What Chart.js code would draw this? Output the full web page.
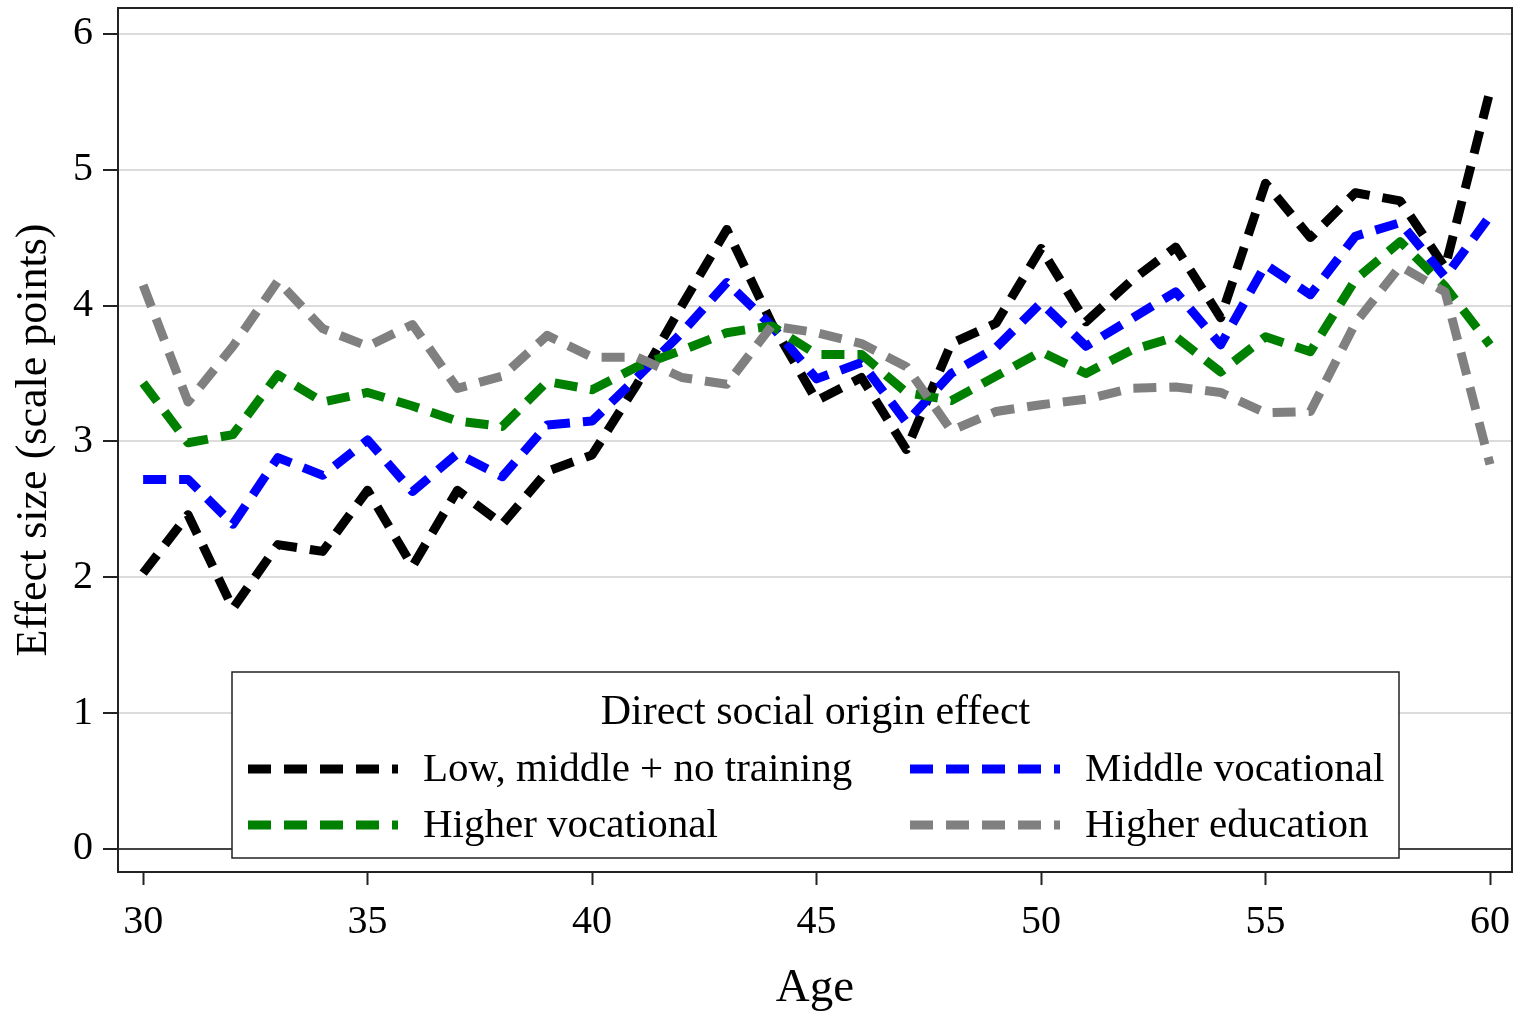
<!DOCTYPE html>
<html lang="en">
<head>
    <meta charset="UTF-8">
    <title>Direct social origin effect by age</title>
    <script src="https://cdn.jsdelivr.net/npm/chart.js@4.4.3/dist/chart.umd.min.js"></script>
    <style>
        html, body { margin: 0; padding: 0; background: #ffffff; }
        #wrap { width: 1517px; height: 1012px; }
    </style>
</head>
<body>
    <div id="wrap">
        <canvas id="effectChart" width="1517" height="1012"></canvas>
    </div>
    <script>
        // Data
        const ages = [30, 31, 32, 33, 34, 35, 36, 37, 38, 39, 40, 41, 42, 43, 44, 45,
                      46, 47, 48, 49, 50, 51, 52, 53, 54, 55, 56, 57, 58, 59, 60];
        const lowMiddle = [2.03, 2.46, 1.77, 2.24, 2.19, 2.64, 2.08, 2.64, 2.39, 2.78, 2.90,
                           3.42, 4.00, 4.56, 3.87, 3.30, 3.47, 2.94, 3.72, 3.87, 4.42,
                           3.88, 4.18, 4.43, 3.91, 4.90, 4.50, 4.83, 4.77, 4.28, 5.58];
        const middleVoc = [2.72, 2.72, 2.39, 2.88, 2.75, 3.01, 2.63, 2.91, 2.74, 3.12, 3.15,
                           3.47, 3.80, 4.17, 3.85, 3.46, 3.58, 3.14, 3.50, 3.69, 4.02,
                           3.70, 3.90, 4.10, 3.71, 4.30, 4.08, 4.51, 4.61, 4.21, 4.66];
        const higherVoc = [3.43, 2.99, 3.05, 3.49, 3.29, 3.36, 3.26, 3.15, 3.11, 3.44, 3.38,
                           3.55, 3.67, 3.80, 3.85, 3.64, 3.64, 3.36, 3.30, 3.48, 3.66,
                           3.50, 3.67, 3.77, 3.51, 3.77, 3.66, 4.19, 4.47, 4.14, 3.71];
        const higherEdu = [4.15, 3.29, 3.70, 4.18, 3.83, 3.70, 3.86, 3.39, 3.48, 3.78, 3.62,
                           3.62, 3.47, 3.42, 3.85, 3.80, 3.72, 3.55, 3.08, 3.22, 3.27,
                           3.31, 3.39, 3.40, 3.36, 3.21, 3.22, 3.87, 4.29, 4.10, 2.83];

        const seriesLabels = ['Low, middle + no training', 'Middle vocational',
                              'Higher vocational', 'Higher education'];
        const seriesColors = ['#000000', '#0000ff', '#008000', '#808080'];
        const xTicks = [30, 35, 40, 45, 50, 55, 60];
        const yTicks = [0, 1, 2, 3, 4, 5, 6];

        const FONT = '"Liberation Serif", "Times New Roman", serif';
        const DASH = [23, 13];
        const LINE_W = 9;

        const toPoints = (vals) => vals.map((v, i) => ({ x: ages[i], y: v }));

        const makeSet = (idx, vals) => ({
            label: seriesLabels[idx],
            data: toPoints(vals),
            borderColor: seriesColors[idx],
            backgroundColor: seriesColors[idx],
            borderWidth: LINE_W,
            borderDash: DASH,
            borderCapStyle: 'butt',
            borderJoinStyle: 'round',
            pointRadius: 0,
            tension: 0,
            fill: false,
            order: 4 - idx
        });

        // frame around the plot region
        const framePlugin = {
            id: 'frame',
            beforeDatasetsDraw(chart) {
                const a = chart.chartArea;
                const c = chart.ctx;
                c.save();
                c.strokeStyle = '#222222';
                c.lineWidth = 2;
                c.strokeRect(a.left, a.top, a.right - a.left, a.bottom - a.top);
                c.restore();
            }
        };

        // legend box drawn inside the plot like the original
        const boxLegend = {
            id: 'boxLegend',
            afterDatasetsDraw(chart) {
                const c = chart.ctx;
                const box = { left: 232, top: 672, right: 1399, bottom: 858 };
                c.save();
                c.fillStyle = '#ffffff';
                c.fillRect(box.left, box.top, box.right - box.left, box.bottom - box.top);
                c.strokeStyle = '#222222';
                c.lineWidth = 1.5;
                c.strokeRect(box.left, box.top, box.right - box.left, box.bottom - box.top);

                c.fillStyle = '#000000';
                c.textBaseline = 'middle';
                c.textAlign = 'center';
                c.font = '42px ' + FONT;
                c.fillText('Direct social origin effect', (box.left + box.right) / 2, 713);

                const cols = [248, 910];
                const rows = [769, 825];
                c.textAlign = 'left';
                c.font = '41px ' + FONT;
                chart.data.datasets.forEach((ds, i) => {
                    const x = cols[i % 2];
                    const y = rows[Math.floor(i / 2)];
                    c.strokeStyle = ds.borderColor;
                    c.lineWidth = LINE_W;
                    c.setLineDash(DASH);
                    c.beginPath();
                    c.moveTo(x, y);
                    c.lineTo(x + 150, y);
                    c.stroke();
                    c.setLineDash([]);
                    c.fillText(ds.label, x + 175, y + 1);
                });
                c.restore();
            }
        };

        const ctx = document.getElementById('effectChart').getContext('2d');
        new Chart(ctx, {
            type: 'line',
            data: {
                datasets: [
                    makeSet(0, lowMiddle),
                    makeSet(1, middleVoc),
                    makeSet(2, higherVoc),
                    makeSet(3, higherEdu)
                ]
            },
            options: {
                responsive: false,
                animation: false,
                layout: { padding: { top: 8, right: 5, left: 0, bottom: 0 } },
                plugins: {
                    legend: { display: false },
                    tooltip: { enabled: false }
                },
                scales: {
                    x: {
                        type: 'linear',
                        min: 29.44,
                        max: 60.49,
                        afterBuildTicks: (scale) => { scale.ticks = xTicks.map(v => ({ value: v })); },
                        afterFit: (scale) => {
                            scale.height = 140;
                            scale.paddingLeft = 0;
                            scale.paddingRight = 0;
                        },
                        grid: {
                            drawOnChartArea: false,
                            tickLength: 13,
                            tickColor: '#222222',
                            tickWidth: 2
                        },
                        border: { display: true, color: '#222222', width: 2 },
                        ticks: {
                            color: '#000000',
                            font: { family: FONT, size: 40 },
                            padding: 13,
                            maxRotation: 0
                        },
                        title: {
                            display: true,
                            text: 'Age',
                            color: '#000000',
                            font: { family: FONT, size: 47, lineHeight: 1.0 },
                            padding: { top: 0, bottom: 0 }
                        }
                    },
                    y: {
                        min: -0.17,
                        max: 6.19,
                        afterBuildTicks: (scale) => { scale.ticks = yTicks.map(v => ({ value: v })); },
                        afterFit: (scale) => {
                            scale.width = 118;
                            scale.paddingTop = 0;
                            scale.paddingBottom = 0;
                        },
                        grid: {
                            color: (c) => (c.tick && c.tick.value === 0) ? '#444444' : '#dcdcdc',
                            lineWidth: 2,
                            tickLength: 15,
                            tickColor: '#222222',
                            tickWidth: 2
                        },
                        border: { display: true, color: '#222222', width: 2 },
                        ticks: {
                            color: '#000000',
                            font: { family: FONT, size: 40 },
                            padding: 10
                        },
                        title: {
                            display: true,
                            text: 'Effect size (scale points)',
                            color: '#000000',
                            font: { family: FONT, size: 44, lineHeight: 1.2 },
                            padding: { top: 8, bottom: 0 }
                        }
                    }
                }
            },
            plugins: [framePlugin, boxLegend]
        });
    </script>
</body>
</html>
